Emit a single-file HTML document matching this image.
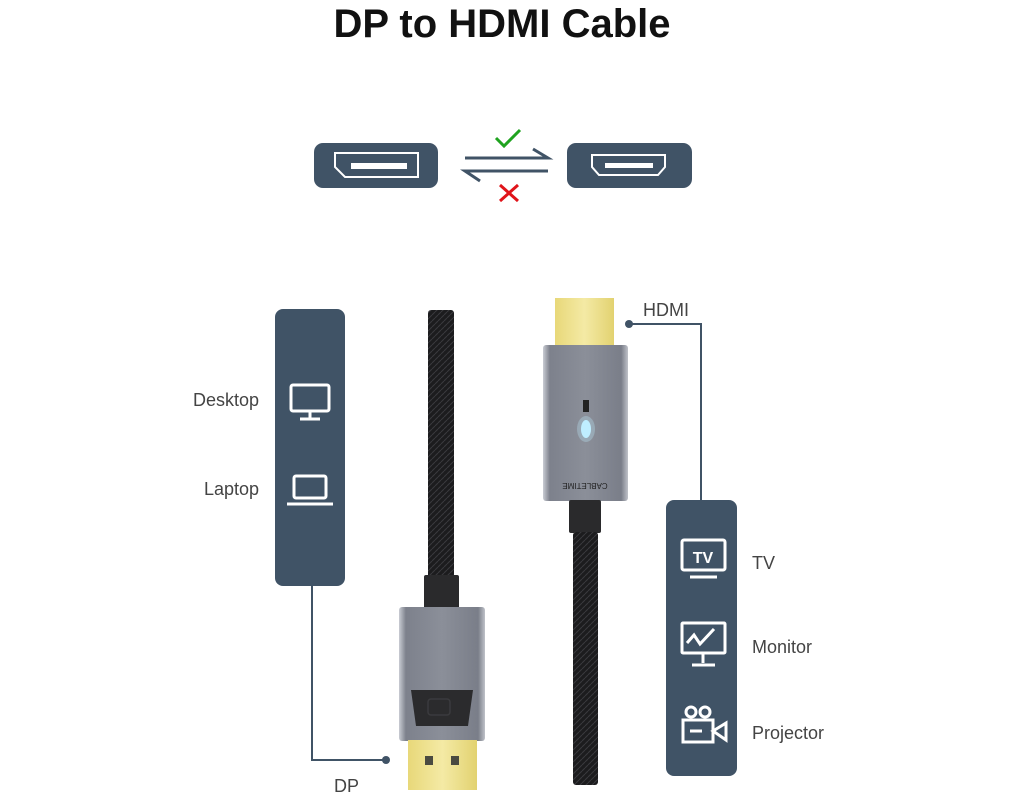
<!DOCTYPE html>
<html><head><meta charset="utf-8"><style>
html,body{margin:0;padding:0;background:#fff;}
svg{display:block;}
text{font-family:"Liberation Sans",sans-serif;}
</style></head><body>
<svg width="1024" height="800" viewBox="0 0 1024 800" xmlns="http://www.w3.org/2000/svg">
<defs>
<pattern id="braid" width="6" height="6" patternUnits="userSpaceOnUse">
<rect width="6" height="6" fill="#1c1c1e"/>
<path d="M0 3 L3 0 M3 6 L6 3" stroke="#3a3a3e" stroke-width="1"/>
</pattern>
<linearGradient id="metal" x1="0" x2="1">
<stop offset="0" stop-color="#c9ccd3"/><stop offset="0.08" stop-color="#7d818c"/><stop offset="0.5" stop-color="#8b8f99"/><stop offset="0.92" stop-color="#7a7e89"/><stop offset="1" stop-color="#bfc2c9"/>
</linearGradient>
<linearGradient id="gold" x1="0" x2="1">
<stop offset="0" stop-color="#e8d879"/><stop offset="0.5" stop-color="#f4eaa5"/><stop offset="1" stop-color="#e2d270"/>
</linearGradient>
</defs>
<text x="502" y="37" text-anchor="middle" font-size="40" font-weight="bold" fill="#111">DP to HDMI Cable</text>

<!-- top port icons -->
<rect x="314" y="143" width="124" height="45" rx="9" fill="#405366"/>
<path d="M335 153 H418 V177 H345 L335 167 Z" fill="none" stroke="#fff" stroke-width="2"/>
<rect x="351" y="163" width="56" height="6" fill="#fff"/>
<rect x="567" y="143" width="125" height="45" rx="9" fill="#405366"/>
<path d="M592 155 H665 V167 L658 175 H599 L592 167 Z" fill="none" stroke="#fff" stroke-width="2"/>
<rect x="605" y="163" width="48" height="5" fill="#fff"/>
<path d="M465 158 H548 L533 149" fill="none" stroke="#405366" stroke-width="3"/>
<path d="M548 171 H465 L480 181" fill="none" stroke="#405366" stroke-width="3"/>
<path d="M496 138 L504 146 L520 130" fill="none" stroke="#1fa31f" stroke-width="3"/>
<path d="M500 185 L518 201 M518 185 L500 201" stroke="#e0141a" stroke-width="3"/>

<!-- left panel -->
<rect x="275" y="309" width="70" height="277" rx="8" fill="#405366"/>
<rect x="291" y="385" width="38" height="26" rx="2" fill="none" stroke="#fff" stroke-width="3"/>
<path d="M310 411 V418 M300 419 H320" stroke="#fff" stroke-width="3"/>
<rect x="294" y="476" width="32" height="22" rx="2" fill="none" stroke="#fff" stroke-width="3"/>
<path d="M287 504 H333" stroke="#fff" stroke-width="3"/>
<text x="259" y="406" text-anchor="end" font-size="18" fill="#444">Desktop</text>
<text x="259" y="495" text-anchor="end" font-size="18" fill="#444">Laptop</text>
<path d="M312 586 V760 H385" fill="none" stroke="#405366" stroke-width="2"/>
<circle cx="386" cy="760" r="4" fill="#405366"/>
<text x="334" y="792" font-size="18" fill="#444">DP</text>

<!-- right panel -->
<rect x="666" y="500" width="71" height="276" rx="8" fill="#405366"/>
<rect x="682" y="540" width="43" height="30" rx="2" fill="none" stroke="#fff" stroke-width="3"/>
<text x="703" y="563" text-anchor="middle" font-size="16" font-weight="bold" fill="#fff">TV</text>
<path d="M690 577 H717" stroke="#fff" stroke-width="3"/>
<rect x="682" y="623" width="43" height="30" rx="1" fill="none" stroke="#fff" stroke-width="3"/>
<path d="M687 643 L694 635 L700 644 L714 629" fill="none" stroke="#fff" stroke-width="3"/>
<path d="M703 653 V663 M692 665 H715" stroke="#fff" stroke-width="3"/>
<circle cx="691" cy="712" r="5" fill="none" stroke="#fff" stroke-width="3"/>
<circle cx="705" cy="712" r="5" fill="none" stroke="#fff" stroke-width="3"/>
<rect x="683" y="720" width="30" height="22" fill="none" stroke="#fff" stroke-width="3"/>
<path d="M713 731 L726 723 V740 Z" fill="none" stroke="#fff" stroke-width="3"/>
<path d="M690 731 H702" stroke="#fff" stroke-width="3"/>
<text x="752" y="569" font-size="18" fill="#444">TV</text>
<text x="752" y="653" font-size="18" fill="#444">Monitor</text>
<text x="752" y="739" font-size="18" fill="#444">Projector</text>
<path d="M628 324 H701 V500" fill="none" stroke="#405366" stroke-width="2"/>
<circle cx="629" cy="324" r="4" fill="#405366"/>
<text x="643" y="316" font-size="18" fill="#444">HDMI</text>

<!-- DP cable -->
<rect x="428" y="310" width="26" height="268" rx="3" fill="url(#braid)"/>
<rect x="424" y="575" width="35" height="34" rx="2" fill="#2a2a2c"/>
<rect x="399" y="607" width="86" height="134" rx="3" fill="url(#metal)"/>
<path d="M411 690 H473 L468 726 H416 Z" fill="#2b2b2d"/>
<rect x="428" y="699" width="22" height="16" rx="3" fill="none" stroke="#3b3b3e" stroke-width="1.5"/>
<rect x="408" y="740" width="69" height="50" fill="url(#gold)"/>
<rect x="425" y="756" width="8" height="9" fill="#4a4a40"/>
<rect x="451" y="756" width="8" height="9" fill="#4a4a40"/>

<!-- HDMI cable -->
<rect x="555" y="298" width="59" height="48" fill="url(#gold)"/>
<rect x="543" y="345" width="85" height="156" rx="3" fill="url(#metal)"/>
<ellipse cx="586" cy="429" rx="5" ry="9" fill="#bfeeff"/>
<ellipse cx="586" cy="429" rx="9" ry="13" fill="#bfeeff" opacity="0.3"/>
<rect x="583" y="400" width="6" height="12" fill="#222"/>
<text x="585" y="489" text-anchor="middle" font-size="8" fill="#222" transform="rotate(180 585 486)">CABLETIME</text>
<rect x="569" y="500" width="32" height="33" rx="2" fill="#2a2a2c"/>
<rect x="573" y="532" width="25" height="253" rx="3" fill="url(#braid)"/>
</svg>
</body></html>
